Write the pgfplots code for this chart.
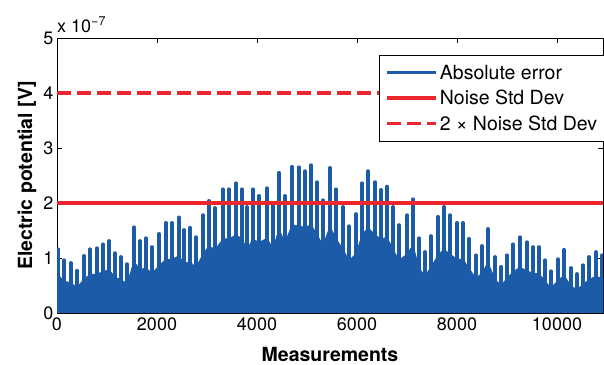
\documentclass[border=0pt]{standalone}
\usepackage{fontspec}
\setmainfont{TeX Gyre Heros}
\usepackage{pgfplots}
\usepackage{pgfplotstable}
\pgfplotsset{compat=1.18}
\definecolor{errblue}{RGB}{27,91,168}
\definecolor{nred}{RGB}{236,38,44}
\newcommand{\tickfont}{\fontsize{18bp}{21bp}\selectfont}
\newcommand{\labfont}{\fontsize{19.5bp}{23bp}\selectfont\bfseries}
\newcommand{\legfont}{\fontsize{19.5bp}{23bp}\selectfont}
\pgfplotstableread{
X P F
0 1.16 1.16
20 1.16 0.70
140 0.96 0.58
280 0.91 0.55
400 0.77 0.46
540 1.04 0.62
660 1.16 0.70
800 1.18 0.71
920 1.25 0.75
1040 1.31 0.79
1160 1.09 0.65
1280 1.02 0.61
1400 0.89 0.53
1540 1.56 0.94
1660 1.31 0.79
1780 1.36 0.82
1900 1.20 0.72
2040 1.44 0.86
2180 1.64 0.98
2300 1.64 0.98
2440 1.74 1.04
2540 1.51 0.91
2660 1.55 0.93
2780 1.38 0.83
2920 1.78 1.07
3040 2.04 1.22
3160 1.91 1.15
3320 2.25 1.35
3440 2.25 1.35
3580 2.36 1.42
3700 2.25 1.35
3800 1.93 1.16
3920 2.25 1.35
4040 2.13 1.28
4200 2.27 1.36
4320 1.95 1.17
4440 2.55 1.53
4560 2.13 1.28
4700 2.66 1.60
4840 2.65 1.59
4960 2.58 1.55
5080 2.69 1.61
5200 2.38 1.43
5320 2.05 1.23
5460 2.64 1.58
5580 2.25 1.35
5720 1.93 1.16
5840 1.58 0.95
5980 1.80 1.08
6100 2.36 1.42
6220 2.58 1.55
6360 2.38 1.43
6480 2.24 1.34
6600 2.30 1.38
6720 1.93 1.16
6840 1.60 0.96
7000 1.78 1.07
7120 2.07 1.24
7240 1.36 0.82
7360 1.11 0.67
7480 1.40 0.84
7620 1.75 1.05
7740 1.93 1.16
7860 1.78 1.07
8000 1.64 0.98
8120 1.64 0.98
8240 1.35 0.81
8380 1.05 0.63
8500 1.22 0.73
8620 1.53 0.92
8760 1.02 0.61
8880 0.84 0.50
9000 1.05 0.63
9120 1.25 0.75
9260 1.38 0.83
9400 1.29 0.77
9520 1.20 0.72
9640 1.20 0.72
9760 0.96 0.58
9880 0.76 0.46
10020 0.98 0.59
10140 1.15 0.69
10280 0.82 0.49
10400 0.71 0.43
10520 0.87 0.52
10640 1.02 0.61
10780 1.11 0.67
10900 1.05 0.63
10920 1.05 0.63
}\errtable
\begin{document}
\begin{tikzpicture}
\path[use as bounding box] (0,0) rectangle (604bp,365bp);
\begin{axis}[
  at={(57bp,52bp)}, anchor=south west,
  scale only axis, width=546bp, height=275bp,
  xmin=0, xmax=10920, ymin=0, ymax=5,
  xtick={0,2000,4000,6000,8000,10000}, ytick={0,1,2,3,4,5},
  scaled x ticks=false, scaled y ticks=false,
  tick align=inside, major tick length=5bp,
  axis line style={line width=0.8bp},
  every tick/.style={black, line width=0.8bp},
  /pgf/number format/1000 sep={},
  /pgf/number format/assume math mode=true,
  xticklabel style={font=\tickfont, yshift=-1bp},
  yticklabel style={font=\tickfont},
  xlabel={Measurements},
  ylabel={Electric potential [V]},
  xlabel style={font=\labfont, at={(axis description cs:0.5,-0.152)}, anchor=center},
  ylabel style={font=\labfont, at={(axis description cs:-0.055,0.5)}, anchor=center},
  legend cell align=left,
  legend style={at={(rel axis cs:1,0.938)}, anchor=north east, xshift=3bp, draw=black,
    line width=0.6bp, fill=white, inner xsep=6bp, inner ysep=7bp,
    font=\legfont,
    nodes={font=\legfont, inner sep=2.5bp}, row sep=4.5bp},
  legend image code/.code={\draw[#1] (0bp,0bp) -- (49bp,0bp);},
  clip mode=individual,
]
\addplot[forget plot, draw=errblue, fill=errblue, line width=0.7bp, line join=round]
  table[x=X, y=F] {\errtable} \closedcycle;
\addplot[forget plot, ycomb, errblue, line width=3.6bp, line cap=round]
  table[x=X, y=P] {\errtable};
\addlegendimage{errblue, line width=3.5bp}
\addlegendentry{Absolute error}
\addplot[nred, line width=3.5bp] coordinates {(0,2) (10920,2)};
\addlegendentry{Noise Std Dev}
\addplot[nred, line width=3.5bp, dash pattern=on 14bp off 6bp] coordinates {(0,4) (10920,4)};
\addlegendentry{2 × Noise Std Dev}
\node[anchor=base west, inner sep=0pt, font=\tickfont] at (rel axis cs:0,1) [yshift=6bp] {x 10\textsuperscript{−7}};
\end{axis}
\end{tikzpicture}
\end{document}
